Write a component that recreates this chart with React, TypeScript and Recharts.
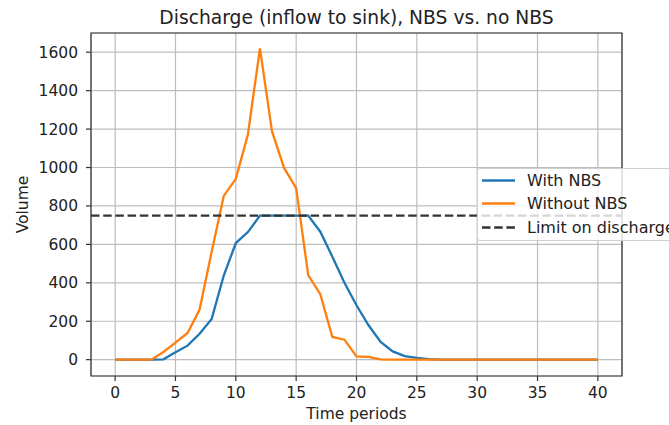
import React from "react";
import {
  LineChart,
  Line,
  XAxis,
  YAxis,
  CartesianGrid,
  ReferenceLine,
  ReferenceArea,
} from "recharts";

const TITLE = "Discharge (inflow to sink), NBS vs. no NBS";
const X_LABEL = "Time periods";
const Y_LABEL = "Volume";

const timePeriods = Array.from({ length: 41 }, (_, i) => i);
const withNBS = [
  0, 0, 0, 0, 2, 38, 73, 135, 212, 438, 607, 664, 750, 750, 750, 750, 750, 666, 536, 400, 283,
  179, 92, 43, 19, 9, 3, 0, 0, 0, 0, 0, 0, 0, 0, 0, 0, 0, 0, 0, 0,
];
const withoutNBS = [
  0, 0, 0, 0, 40, 89, 139, 261, 562, 852, 941, 1171, 1620, 1188, 998, 893, 440, 341, 118, 104, 17,
  14, 2, 0, 0, 0, 0, 0, 0, 0, 0, 0, 0, 0, 0, 0, 0, 0, 0, 0, 0,
];
const LIMIT = 750;
const xTicks = [0, 5, 10, 15, 20, 25, 30, 35, 40];
const yTicks = [0, 200, 400, 600, 800, 1000, 1200, 1400, 1600];
const seriesNames = ["With NBS", "Without NBS", "Limit on discharge"];

const BLUE = "#1f77b4";
const ORANGE = "#ff7f0e";
const FONT = "DejaVu Sans";

const data = timePeriods.map((t, i) => ({ t, a: withNBS[i], b: withoutNBS[i] }));

const LegendBox = () => (
  <div
    style={{
      position: "absolute",
      left: 477,
      top: 168,
      width: 240,
      height: 73,
      border: "1px solid #d0d0d0",
      borderRadius: 3,
      background: "rgba(255,255,255,0.8)",
      boxSizing: "border-box",
    }}
  >
    <svg width={240} height={73} style={{ position: "absolute", left: -1, top: -1 }}>
      <line x1={5} x2={38} y1={12.5} y2={12.5} stroke={BLUE} strokeWidth={2.3} />
      <line x1={5} x2={38} y1={35.5} y2={35.5} stroke={ORANGE} strokeWidth={2.3} />
      <line x1={5} x2={38} y1={59.5} y2={59.5} stroke="#333" strokeWidth={2.3} strokeDasharray="8.5 3.7" />
      <text x={50} y={17.5} fontFamily={FONT} fontSize={16} fill="#222">{seriesNames[0]}</text>
      <text x={50} y={41} fontFamily={FONT} fontSize={16} fill="#222">{seriesNames[1]}</text>
      <text x={50} y={64.5} fontFamily={FONT} fontSize={16} fill="#222">{seriesNames[2]}</text>
    </svg>
  </div>
);

export default function App() {
  return (
    <div
      style={{
        position: "absolute",
        left: 0,
        top: 0,
        width: 669,
        height: 425,
        overflow: "hidden",
        background: "#fff",
      }}
    >
      <LineChart
        width={669}
        height={425}
        data={data}
        margin={{ top: 33, right: 47, bottom: 0, left: 0 }}
      >
        <CartesianGrid stroke="#bdbdbd" strokeWidth={1.2} />
        <XAxis
          dataKey="t"
          type="number"
          domain={[-2, 42]}
          ticks={xTicks}
          height={49}
          allowDataOverflow
          axisLine={false}
          tickLine={{ stroke: "#333", strokeWidth: 1.2 }}
          tickSize={5}
          tickMargin={6}
          tick={{ fontFamily: FONT, fontSize: 15.5, fill: "#222" }}
        />
        <YAxis
          type="number"
          domain={[-85, 1700]}
          ticks={yTicks}
          width={91}
          allowDataOverflow
          axisLine={false}
          tickLine={{ stroke: "#333", strokeWidth: 1.2 }}
          tickSize={5}
          tickMargin={8}
          tick={{ fontFamily: FONT, fontSize: 15.5, fill: "#222" }}
        />
        <Line
          dataKey="a"
          name={seriesNames[0]}
          stroke={BLUE}
          strokeWidth={2.3}
          dot={false}
          isAnimationActive={false}
        />
        <Line
          dataKey="b"
          name={seriesNames[1]}
          stroke={ORANGE}
          strokeWidth={2.3}
          dot={false}
          isAnimationActive={false}
        />
        <ReferenceLine y={LIMIT} stroke="#333" strokeWidth={2.3} strokeDasharray="8.5 3.7" />
        <ReferenceArea
          x1={-2}
          x2={42}
          y1={-85}
          y2={1700}
          fill="none"
          fillOpacity={0}
          stroke="#333"
          strokeWidth={1.2}
          ifOverflow="visible"
        />
      </LineChart>
      <LegendBox />
      <svg
        width={669}
        height={425}
        style={{ position: "absolute", left: 0, top: 0, pointerEvents: "none" }}
      >
        <text x={356.5} y={24} textAnchor="middle" fontFamily={FONT} fontSize={18.7} fill="#222">
          {TITLE}
        </text>
        <text x={356.5} y={419} textAnchor="middle" fontFamily={FONT} fontSize={15.5} fill="#222">
          {X_LABEL}
        </text>
        <text
          x={28}
          y={204.5}
          textAnchor="middle"
          fontFamily={FONT}
          fontSize={15.5}
          fill="#222"
          transform="rotate(-90, 28, 204.5)"
        >
          {Y_LABEL}
        </text>
      </svg>
    </div>
  );
}
